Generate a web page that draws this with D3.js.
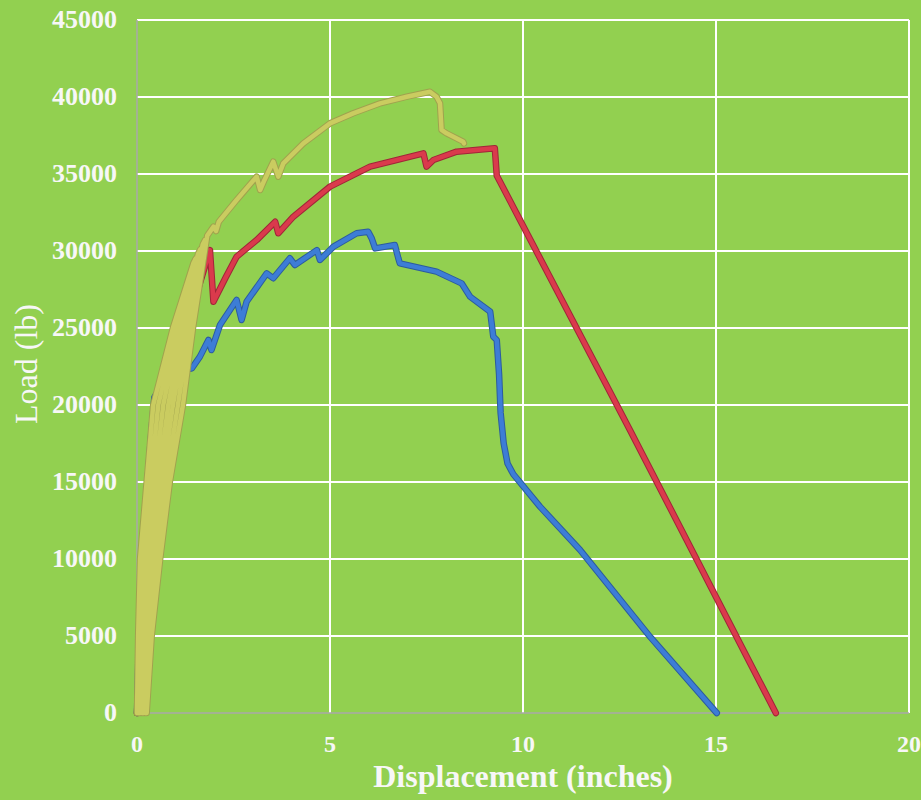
<!DOCTYPE html>
<html>
<head>
<meta charset="utf-8">
<script src="https://cdn.jsdelivr.net/npm/d3@7"></script>
<style>
  html, body { margin: 0; padding: 0; background: #92D050; }
  svg { display: block; }
</style>
</head>
<body>
<svg id="chart" width="921" height="800"></svg>
<script>
// Axis ticks
const xTickValues = [0, 5, 10, 15, 20];
const yTickValues = [0, 5000, 10000, 15000, 20000, 25000, 30000, 35000, 40000, 45000];

// Specimen 1 (blue)
const blueDisplacement = [0, 0.05, 0.12, 0.27, 0.38, 0.45, 0.75, 1.1, 1.42, 1.63, 1.85, 1.93, 2.15, 2.58, 2.71, 2.84,
  3.36, 3.53, 3.96, 4.09, 4.66, 4.74, 5.09, 5.69, 5.99, 6.08, 6.17, 6.68, 6.77, 6.81, 7.76, 8.41, 8.63, 9.15, 9.23,
  9.32, 9.38, 9.42, 9.50, 9.60, 9.75, 10.44, 11.48, 13.29, 15.02];
const blueLoad = [0, 5000, 10000, 15000, 18500, 20500, 21800, 22200, 22380, 23140, 24220, 23570, 25190, 26820, 25520, 26710,
  28550, 28230, 29530, 29090, 30060, 29420, 30280, 31150, 31250, 30820, 30170, 30390, 29530, 29200, 28660, 27900, 27030, 26060, 24440,
  24220, 22000, 19500, 17500, 16200, 15500, 13400, 10580, 4955, 0];

// Specimen 2 (red)
const redDisplacement = [0, 0.1, 0.3, 0.55, 0.85, 1.2, 1.45, 1.59, 1.89, 1.98, 2.3, 2.58, 3.10, 3.58, 3.66, 4.05,
  5.0, 6.04, 7.42, 7.50, 7.68, 8.28, 9.27, 9.32, 12.77, 16.55];
const redLoad = [0, 5000, 10000, 15000, 20000, 24500, 26800, 27580, 30060, 26710, 28300, 29630, 30710, 31900, 31150, 32230,
  34180, 35480, 36340, 35480, 35910, 36450, 36670, 34900, 18380, 0];

// Specimen 3 (yellow): loading/unloading cycles, then the envelope to failure
const yellowDisplacement = [
  0, 0.03, 0.08, 0.25, 0.42, 0.93, 1.46,
  1.52, 1.02, 0.55, 0.35, 0.17, 0.09, 0.04,
  0.08, 0.15, 0.25, 0.45, 0.68, 1.10, 1.58,
  1.64, 1.19, 0.81, 0.55, 0.34, 0.21, 0.125,
  0.17, 0.26, 0.43, 0.65, 0.93, 1.28, 1.70,
  1.76, 1.36, 1.06, 0.75, 0.51, 0.32, 0.21,
  0.25, 0.38, 0.60, 0.85, 1.19, 1.45, 1.82,
  1.98, 2.05, 2.12, 2.58, 3.10, 3.19, 3.30, 3.53, 3.66, 3.79, 4.31, 5.0, 5.60, 6.30, 6.99, 7.59, 7.76, 7.85,
  7.89, 8.02, 8.45, 8.47];
const yellowLoad = [
  0, 5000, 10000, 15000, 20000, 25000, 29200,
  29500, 25000, 20000, 15000, 10000, 5000, 0,
  0, 5000, 10000, 15000, 20000, 25000, 29800,
  30100, 25000, 20000, 15000, 10000, 5000, 0,
  0, 5000, 10000, 15000, 20000, 25000, 30400,
  30700, 25000, 20000, 15000, 10000, 5000, 0,
  0, 5000, 10000, 15000, 20000, 25000, 31000,
  31580, 31300, 31900, 33310, 34830, 33960, 34600, 35800, 34830, 35690, 36990, 38290, 38940, 39590, 40020, 40340, 40020, 39590,
  37860, 37640, 37100, 36990];

const seriesStyles = [
  { x: blueDisplacement, y: blueLoad, core: "#3D7DD6", edge: "#2C5C9E" },
  { x: redDisplacement, y: redLoad, core: "#DA3A4C", edge: "#A02638" },
  { x: yellowDisplacement, y: yellowLoad, core: "#CACC60", edge: "#A0A24E" }
];

const svg = d3.select("#chart");
const margin = { left: 137, top: 20, right: 12, bottom: 87 };
const W = 921, H = 800;

const x = d3.scaleLinear().domain([0, 20]).range([margin.left, W - margin.right]);
const y = d3.scaleLinear().domain([0, 45000]).range([H - margin.bottom, margin.top]);

const font = "'Liberation Serif', 'Times New Roman', serif";

// Grid
const grid = svg.append("g");
grid.selectAll("line.h").data(yTickValues.filter(d => d > 0)).join("line")
  .attr("x1", x(0)).attr("x2", x(20))
  .attr("y1", d => y(d)).attr("y2", d => y(d))
  .attr("stroke", "#ffffff").attr("stroke-width", 2);
grid.selectAll("line.v").data(xTickValues.filter(d => d > 0)).join("line")
  .attr("y1", y(0)).attr("y2", y(45000))
  .attr("x1", d => x(d)).attr("x2", d => x(d))
  .attr("stroke", "#ffffff").attr("stroke-width", 2);

// Axis lines
svg.append("line").attr("x1", x(0)).attr("x2", x(0)).attr("y1", y(0)).attr("y2", y(45000))
  .attr("stroke", "#a8a8a8").attr("stroke-width", 1.5);
svg.append("line").attr("x1", x(0)).attr("x2", x(20)).attr("y1", y(0)).attr("y2", y(0))
  .attr("stroke", "#a8a8a8").attr("stroke-width", 1.5);

// Curves: darker rim under a lighter core
const line = d3.line().x(d => x(d[0])).y(d => y(d[1])).curve(d3.curveLinear);
const curves = svg.append("g");
seriesStyles.forEach(s => {
  const pts = s.x.map((v, i) => [v, s.y[i]]);
  curves.append("path").attr("d", line(pts)).attr("fill", "none")
    .attr("stroke", s.edge).attr("stroke-width", 6.5)
    .attr("stroke-linejoin", "round").attr("stroke-linecap", "round");
  curves.append("path").attr("d", line(pts)).attr("fill", "none")
    .attr("stroke", s.core).attr("stroke-width", 4.5)
    .attr("stroke-linejoin", "round").attr("stroke-linecap", "round");
});

// Tick labels
svg.append("g").selectAll("text").data(xTickValues).join("text")
  .attr("x", d => x(d)).attr("y", 752)
  .attr("text-anchor", "middle")
  .attr("font-family", font).attr("font-weight", "bold").attr("font-size", 24)
  .attr("fill", "#f7f7f7")
  .text(d => d);

svg.append("g").selectAll("text").data(yTickValues).join("text")
  .attr("x", 117).attr("y", d => y(d) + 8)
  .attr("text-anchor", "end")
  .attr("font-family", font).attr("font-weight", "bold").attr("font-size", 26)
  .attr("fill", "#f7f7f7")
  .text(d => d);

// Axis titles
svg.append("text")
  .attr("x", x(10)).attr("y", 787)
  .attr("text-anchor", "middle")
  .attr("font-family", font).attr("font-weight", "bold").attr("font-size", 32)
  .attr("fill", "#f7f7f7")
  .text("Displacement (inches)");

svg.append("text")
  .attr("transform", "translate(37,364) rotate(-90)")
  .attr("text-anchor", "middle")
  .attr("font-family", font).attr("font-size", 32)
  .attr("fill", "#f7f7f7")
  .text("Load (lb)");
</script>
</body>
</html>
